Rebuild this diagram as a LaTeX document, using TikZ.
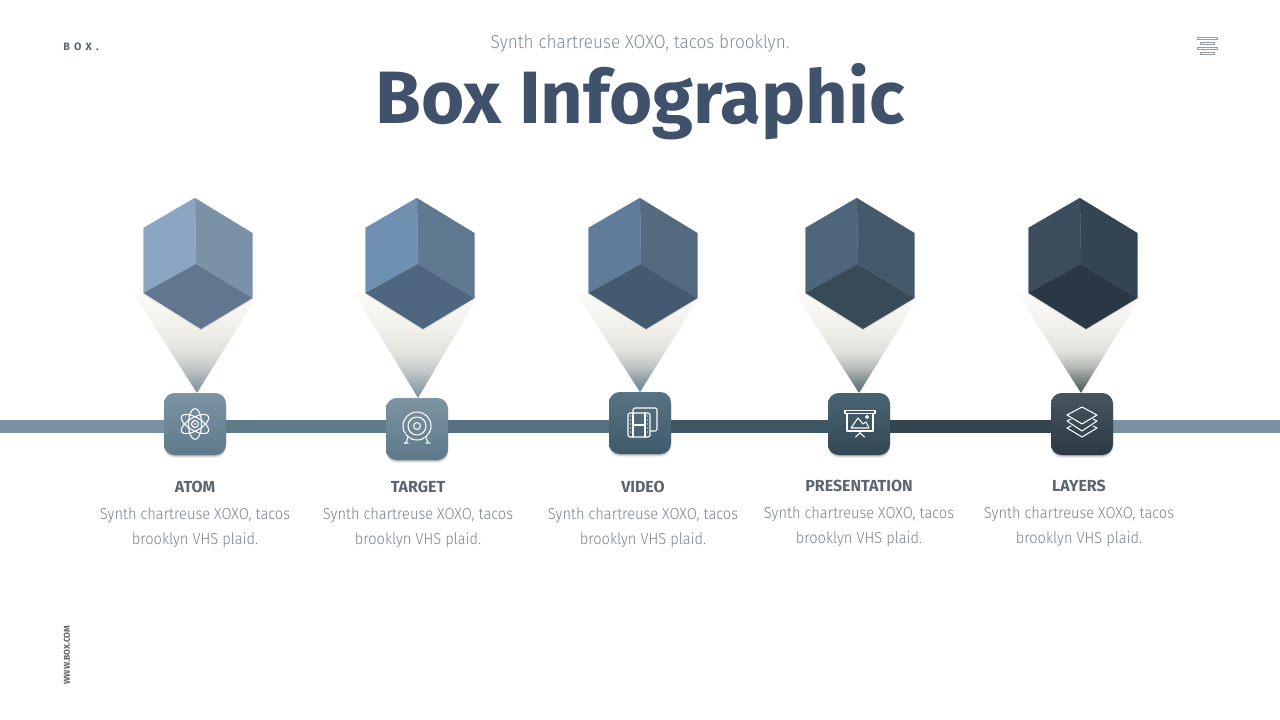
\documentclass[tikz,border=0pt]{standalone}
\usepackage{fontspec}
\setmainfont{Fira Sans}
\newfontfamily\lightfont[FakeStretch=0.92]{Fira Sans Light}
\usetikzlibrary{shadows, backgrounds}

% Colours of the five steps
\definecolor{titleblue}{HTML}{40516B}
\definecolor{subgray}{HTML}{7F8C93}
\definecolor{menugray}{HTML}{949CA1}
\definecolor{headgray}{HTML}{5C6670}
\definecolor{textgray}{HTML}{7A8188}
\definecolor{funnelsage}{HTML}{E2E2DC}
\definecolor{funnelcream}{HTML}{F0EFE9}
\definecolor{funnelpale}{HTML}{FCFBF8}

\tikzset{
  stepbox/.style={minimum size=46.5pt, inner sep=0pt, rounded corners=8pt,
    drop shadow={shadow xshift=0pt, shadow yshift=-0.6pt, opacity=0.18, fill=black!80},
    drop shadow={shadow xshift=0pt, shadow yshift=-1.4pt, opacity=0.14, fill=black!80},
    drop shadow={shadow xshift=0pt, shadow yshift=-2.4pt, opacity=0.08, fill=black!80}},
  barline/.style={line width=9.75pt},
  steptitle/.style={font=\bfseries\fontsize{12}{14}\selectfont, text=headgray},
  steptext/.style={font=\lightfont\fontsize{11.9}{18.75}\selectfont, text=textgray, align=center},
  iconline/.style={draw=white, line width=0.8pt, line join=round, line cap=round},
  atomicon/.pic={
    \foreach \a in {90,30,-30}
      \draw[iconline, rotate=\a] (0,0) ellipse (15.5 and 6.5);
    \draw[iconline] (0,0) circle (3.5);
    \fill[white] (0,0) circle (1.2);
  },
  targeticon/.pic={
    \draw[iconline] (0,-3) circle (14);
    \draw[iconline] (0,-3) circle (9);
    \draw[iconline] (0,-3) circle (3.5);
    \draw[iconline] (-9,8) -- (-11,14) (-13,14) -- (-9,14);
    \draw[iconline] (9,8) -- (11,14) (13,14) -- (9,14);
  },
  videoicon/.pic={
    \draw[iconline, rounded corners=1.5pt] (-7,-10) -- (-7,-15) -- (17,-15) -- (17,8) -- (11,8);
    \draw[iconline, rounded corners=1.5pt] (-12,-10) rectangle (10,14);
    \draw[iconline] (-7,-10) -- (-7,14) (5,-10) -- (5,14) (-7,2) -- (5,2);
    \foreach \y in {-7,-3,1,5,9}
      \fill[white] (-9.5,\y) circle (0.7) (7.5,\y) circle (0.7);
  },
  slideicon/.pic={
    \draw[iconline] (-14,-13.5) rectangle (16,-10.5);
    \draw[iconline] (-12,-10.5) -- (-12,7) -- (14,7) -- (14,-10.5);
    \draw[iconline] (-8,4) -- (-1,-6) -- (4,0) -- (7,-2) -- (10,4) -- cycle;
    \draw[iconline] (8,-7) circle (1.5);
    \draw[iconline] (1,7) -- (1,9) (-3.5,13) -- (1,9) -- (5.5,13);
  },
  layersicon/.pic={
    \draw[iconline] (0,-17) -- (-15,-9) -- (0,0) -- (15,-9) -- cycle;
    \draw[iconline] (-11,-5) -- (-15,-3) -- (0,7) -- (15,-3) -- (11,-5);
    \draw[iconline] (-11,2) -- (-15,4) -- (0,13) -- (15,4) -- (11,2);
  }
}

\begin{document}
\begin{tikzpicture}[x=0.75pt, y=-0.75pt]
    \useasboundingbox (0,0) rectangle (1280,720);

    % Header
    \node[font=\bfseries\fontsize{8}{10}\selectfont\addfontfeature{LetterSpace=40}, text=headgray, anchor=west, inner sep=0pt] (brand) at (63,47) {BOX.};
    \node[font=\lightfont\fontsize{14}{16}\selectfont, text=subgray] (subtitle) at (640,43) {Synth chartreuse XOXO, tacos brooklyn.};
    \node[font=\bfseries\fontsize{55.6}{60}\selectfont, text=titleblue, anchor=base] (title) at (640,124) {Box Infographic};
    \node[font=\bfseries\fontsize{6.4}{7}\selectfont, text=headgray, rotate=90] (site) at (67,655) {WWW.BOX.COM};

    % Menu glyph
    \foreach \x/\w/\y in {1197/20/37, 1200/14/42, 1197/20/47, 1200/14/52}
      \draw[draw=menugray, line width=0.6pt] (\x,\y) rectangle ++(\w,2.4);

    % Steps
    \foreach \n/\x/\y/\cx/\ax/\ay/\shtop/\shbot/\fend/\cl/\cr/\cb in {
      atom/195/424/195/197/393/7C94A3/5E7A8A/7E909A/8BA5C2/7A92A8/62778F,
      target/417/429/417/418/398/7D94A2/5D7989/78909C/6F90B0/5F7A90/4E6680,
      video/640/423/640/640/392/587382/3F5A6A/6A808E/5F7D9A/546B7F/445A70,
      slide/859/424/857/859/393/4A6373/334855/55696F/4E667C/44596A/384958,
      layers/1082/424/1080/1081/393/47555F/2B3A45/4A5558/3C4E5E/344552/293844}{
      \definecolor{shtop}{HTML}{\shtop}
      \definecolor{shbot}{HTML}{\shbot}
      \definecolor{fend}{HTML}{\fend}
      \definecolor{cl}{HTML}{\cl}
      \definecolor{cr}{HTML}{\cr}
      \definecolor{cb}{HTML}{\cb}
      \colorlet{fmida}{fend!70!funnelsage}
      \colorlet{fmidb}{fend!30!funnelsage}

      % Box on the bar
      \node[stepbox, top color=shtop, bottom color=shbot] (\n) at (\x,\y) {};
      \pic at (\n) {\n icon};

      % Funnel under the cube
      \pgfdeclareverticalshading{funnel\n}{100bp}{color(0bp)=(fend); color(25bp)=(fend);
        color(31bp)=(fmida); color(38bp)=(fmidb); color(46bp)=(funnelsage); color(57bp)=(funnelcream); color(75bp)=(funnelpale); color(100bp)=(funnelpale)}
      \shade[shading=funnel\n] (\ax-64,293) -- (\ax+62,293) -- (\ax,\ay) -- cycle;

      % Cube
      \fill[cr] (\cx,198) -- (\cx+57.5,233) -- (\cx+57.5,298) -- (\cx+1,264) -- cycle;
      \fill[cl, draw=cl, line width=0.3pt] (\cx-51.5,228) -- (\cx,198) -- (\cx+1,264) -- (\cx-51.5,293) -- cycle;
      \fill[cb, drop shadow={shadow xshift=0pt, shadow yshift=-1pt, opacity=0.2}]
        (\cx-51.5,293) -- (\cx+1,264) -- (\cx+57.5,298) -- (\cx+6,329) -- cycle;
    }

    % Labels
    \foreach \n/\x/\y/\lab in {atom/195/487/ATOM, target/418/487/TARGET, video/643/487/VIDEO, slide/859/486/PRESENTATION, layers/1079/486/LAYERS}{
      \node[steptitle] (\n title) at (\x,\y) {\lab};
      \node[steptext, anchor=north] (\n text) at (\x,\y+16) {Synth chartreuse XOXO, tacos\\brooklyn VHS plaid.};
    }

    % Bar between the boxes
    \coordinate (barstart) at (0,426.5);
    \coordinate (barend) at (1280,426.5);
    \begin{scope}[on background layer]
      \draw[barline, color={rgb,255:red,122;green,145;blue,159}] (barstart) -- (barstart -| atom.west);
      \draw[barline, color={rgb,255:red,95;green,124;blue,140}] (atom.east |- barstart) -- (target.west |- barstart);
      \draw[barline, color={rgb,255:red,86;green,113;blue,128}] (target.east |- barstart) -- (video.west |- barstart);
      \draw[barline, color={rgb,255:red,63;green,86;blue,100}] (video.east |- barstart) -- (slide.west |- barstart);
      \draw[barline, color={rgb,255:red,51;green,69;blue,79}] (slide.east |- barstart) -- (layers.west |- barstart);
      \draw[barline, color={rgb,255:red,122;green,145;blue,160}] (layers.east |- barstart) -- (barend);
    \end{scope}
\end{tikzpicture}
\end{document}
